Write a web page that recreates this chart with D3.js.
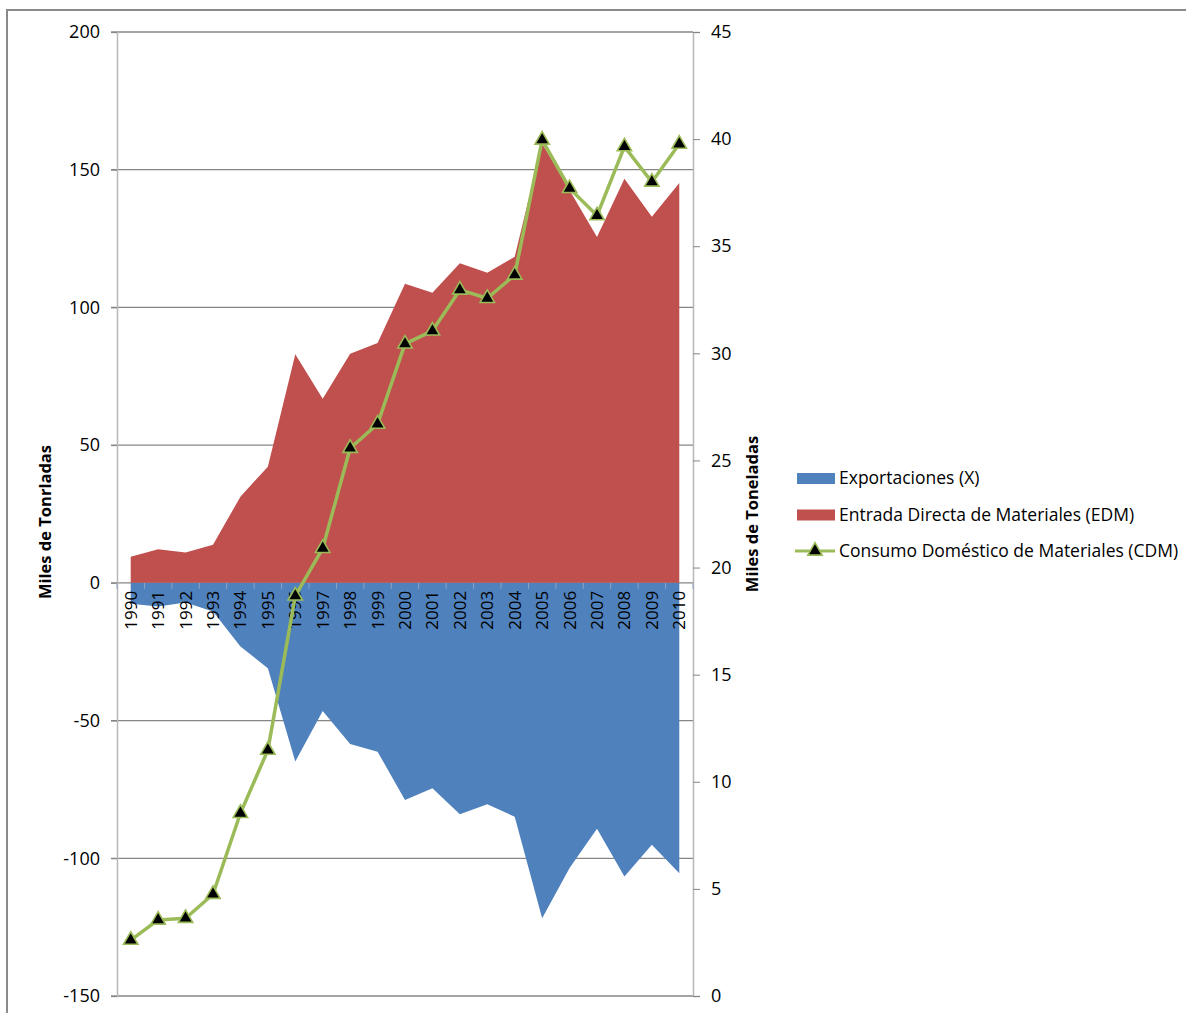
<!DOCTYPE html>
<html>
<head>
<meta charset="utf-8">
<script src="https://cdn.jsdelivr.net/npm/d3@7"></script>
<style>
  html, body { margin: 0; padding: 0; background: #fff; }
  svg { display: block; }
  text { font-family: "Open Sans", "Noto Sans", sans-serif; fill: #000; }
</style>
</head>
<body>
<svg id="chart" width="1186" height="1013"></svg>
<script>
// Años
const years = ["1990","1991","1992","1993","1994","1995","1996","1997","1998","1999",
               "2000","2001","2002","2003","2004","2005","2006","2007","2008","2009","2010"];

// Exportaciones (X), miles de toneladas (negativas)
const exportaciones = [-7.6, -8.6, -7.1, -10.4, -23.1, -31.0, -64.9, -46.5, -58.5, -61.3,
                       -78.8, -74.6, -84.0, -80.4, -84.9, -121.8, -103.5, -89.3, -106.6, -95.1, -105.4];

// Entrada Directa de Materiales (EDM)
const entrada = [9.5, 12.2, 11.0, 13.8, 31.3, 42.2, 83.0, 66.8, 83.2, 87.1,
                 108.6, 105.3, 116.0, 112.6, 118.4, 159.5, 142.5, 125.6, 146.7, 132.9, 145.2];

// Consumo Doméstico de Materiales (CDM), eje secundario
const consumo = [2.61, 3.55, 3.63, 4.75, 8.53, 11.48, 18.68, 20.9, 25.57, 26.7,
                 30.44, 31.05, 32.96, 32.57, 33.66, 39.96, 37.7, 36.43, 39.65, 38.0, 39.77];

const leftTicks = [-150, -100, -50, 0, 50, 100, 150, 200];
const rightTicks = [0, 5, 10, 15, 20, 25, 30, 35, 40, 45];

const series = [
  { name: "Exportaciones (X)", color: "#4F81BD", type: "area" },
  { name: "Entrada Directa de Materiales (EDM)", color: "#C0504D", type: "area" },
  { name: "Consumo Doméstico de Materiales (CDM)", color: "#9BBB59", type: "line" }
];

const svg = d3.select("#chart");
const plot = { left: 117, right: 693, top: 32, bottom: 996 };

// Marco exterior
svg.append("rect")
  .attr("x", 7).attr("y", 10).attr("width", 1190).attr("height", 1020)
  .attr("fill", "none").attr("stroke", "#8a8a8a").attr("stroke-width", 2);

const x = d3.scalePoint().domain(years).range([plot.left, plot.right]).padding(0.5);
const yL = d3.scaleLinear().domain([-150, 200]).range([plot.bottom, plot.top]);
const yR = d3.scaleLinear().domain([0, 45]).range([plot.bottom, plot.top]);

// Etiquetas numéricas con guion simple
const plain = d => String(d);

// Líneas de cuadrícula horizontales
svg.append("g").selectAll("line").data(leftTicks).join("line")
  .attr("x1", plot.left - 6).attr("x2", plot.right)
  .attr("y1", d => yL(d)).attr("y2", d => yL(d))
  .attr("stroke", "#868686").attr("stroke-width", 1.3);

// Áreas
const areaX = d3.area().x((d, i) => x(years[i])).y0(yL(0)).y1(d => yL(d));
svg.append("path").datum(exportaciones).attr("d", areaX).attr("fill", series[0].color);
svg.append("path").datum(entrada).attr("d", areaX).attr("fill", series[1].color);

// Eje izquierdo
const axisL = svg.append("g").attr("transform", `translate(${plot.left},0)`)
  .call(d3.axisLeft(yL).tickValues(leftTicks).tickSize(6).tickFormat(plain));
axisL.select(".domain").attr("stroke", "#b8b8b8").attr("stroke-width", 1.5);
axisL.selectAll(".tick line").attr("stroke", "#868686");
axisL.selectAll(".tick text").attr("x", -17).attr("font-size", 18)
  .style("font-family", "'Open Sans', sans-serif");

// Eje derecho
const axisR = svg.append("g").attr("transform", `translate(${plot.right},0)`)
  .call(d3.axisRight(yR).tickValues(rightTicks).tickSize(7).tickFormat(plain));
axisR.select(".domain").attr("stroke", "#b8b8b8").attr("stroke-width", 1.5);
axisR.selectAll(".tick line").attr("stroke", "#868686");
axisR.selectAll(".tick text").attr("x", 18).attr("font-size", 18)
  .style("font-family", "'Open Sans', sans-serif");

// Eje de categorías en cero
const step = x.step();
const boundaries = d3.range(years.length + 1).map(i => plot.left + i * step);
svg.append("g").selectAll("line").data(boundaries).join("line")
  .attr("x1", d => d).attr("x2", d => d)
  .attr("y1", yL(0)).attr("y2", yL(0) + 6)
  .attr("stroke", "#8fa4c4").attr("stroke-width", 1);

svg.append("g").selectAll("text").data(years).join("text")
  .attr("transform", d => `translate(${x(d) + 6},${yL(0) + 8}) rotate(-90)`)
  .attr("text-anchor", "end")
  .attr("font-size", 17)
  .text(d => d);

// Línea CDM
const line = d3.line().x((d, i) => x(years[i])).y(d => yR(d));
svg.append("path").datum(consumo).attr("d", line)
  .attr("fill", "none").attr("stroke", series[2].color).attr("stroke-width", 3.5)
  .attr("stroke-linejoin", "round");

const tri = d3.symbol().type(d3.symbolTriangle).size(90);
svg.append("g").selectAll("path").data(consumo).join("path")
  .attr("d", tri)
  .attr("transform", (d, i) => `translate(${x(years[i])},${yR(d)})`)
  .attr("fill", "#000").attr("stroke", series[2].color).attr("stroke-width", 1.6);

// Títulos de ejes
svg.append("text")
  .attr("transform", `translate(51,522) rotate(-90)`)
  .attr("text-anchor", "middle").attr("font-weight", "bold").attr("font-size", 16.5)
  .text("Miles de Tonrladas");
svg.append("text")
  .attr("transform", `translate(758,514) rotate(-90)`)
  .attr("text-anchor", "middle").attr("font-weight", "bold").attr("font-size", 16.5)
  .text("Miles de Toneladas");

// Leyenda
const legend = svg.append("g").attr("transform", "translate(797,478)");
series.forEach((s, i) => {
  const g = legend.append("g").attr("transform", `translate(0,${i * 36.5})`);
  if (s.type === "area") {
    g.append("rect").attr("x", 0).attr("y", -5).attr("width", 38).attr("height", 11)
      .attr("fill", s.color);
  } else {
    g.append("line").attr("x1", -2).attr("x2", 38).attr("y1", 0).attr("y2", 0)
      .attr("stroke", s.color).attr("stroke-width", 3.2);
    g.append("path").attr("d", tri).attr("transform", "translate(18,0)")
      .attr("fill", "#000").attr("stroke", s.color).attr("stroke-width", 1.6);
  }
  g.append("text").attr("x", 42).attr("y", 6).attr("font-size", 17.5).text(s.name);
});
</script>
</body>
</html>
